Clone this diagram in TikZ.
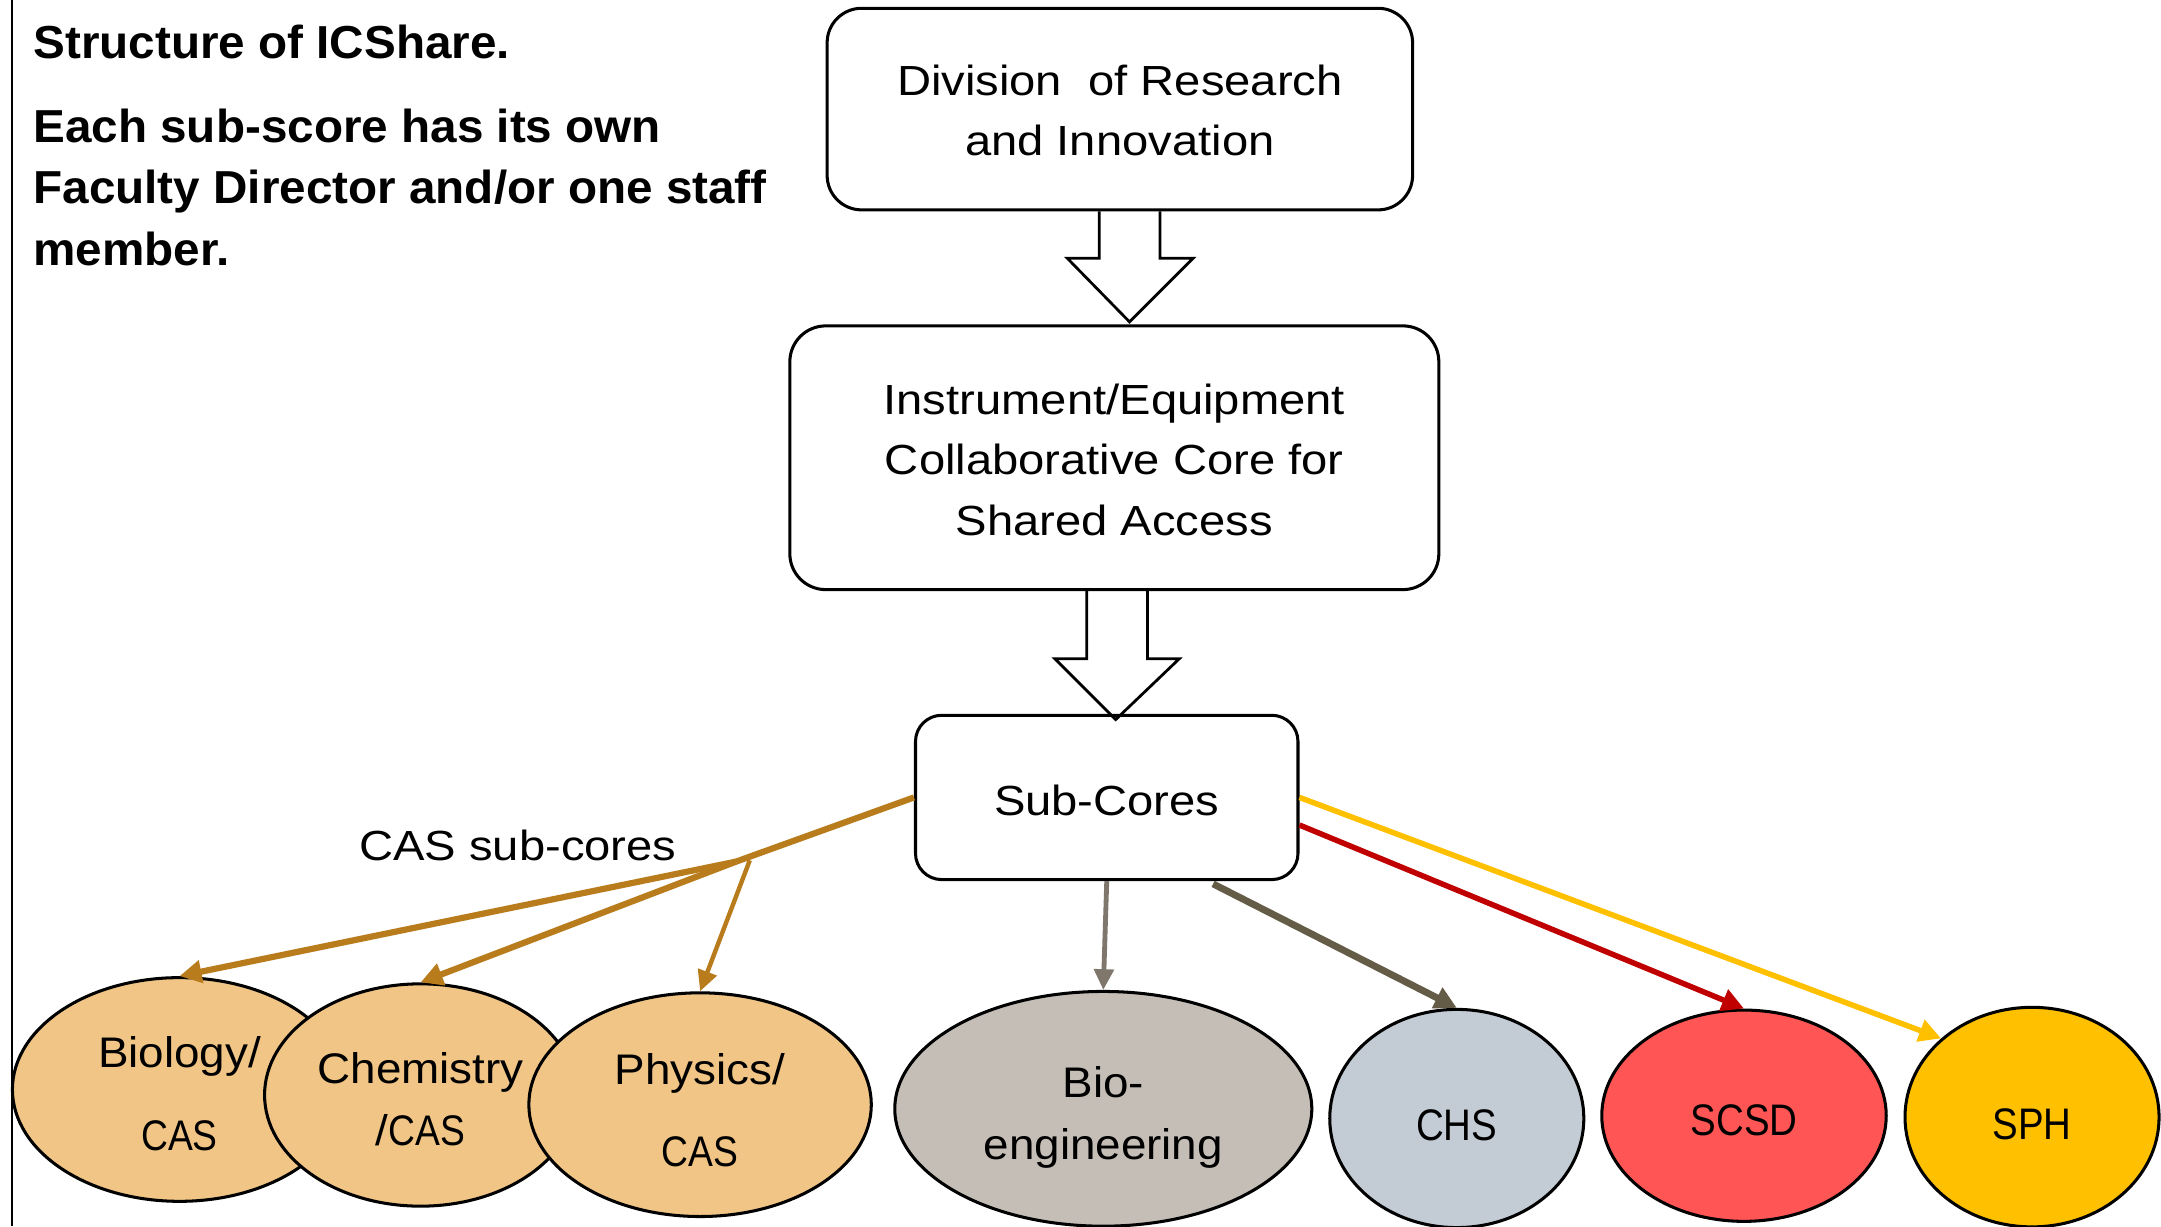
\documentclass[tikz,border=0pt]{standalone}
\usepackage{fontspec}
\setmainfont{Liberation Sans}
\newfontfamily\boxfont{Liberation Sans}[FakeStretch=1.12]
\newfontfamily\titlefont{Liberation Sans}[FakeStretch=1.03]
\newfontfamily\ellfont{Liberation Sans}[FakeStretch=1.07]
\newfontfamily\capsfont{Liberation Sans}[FakeStretch=0.87]
\usetikzlibrary{arrows.meta,calc,shapes.geometric}
\newcommand{\tallstrut}[1]{\rule{0pt}{#1}}
\definecolor{casfill}{HTML}{F0C585}
\definecolor{bioefill}{HTML}{C4BEB7}
\definecolor{chsfill}{HTML}{C3CBD5}
\definecolor{scsdfill}{HTML}{FF5555}
\definecolor{sphfill}{HTML}{FFC000}
\definecolor{casline}{HTML}{B87C1C}
\definecolor{bioeline}{HTML}{7F776C}
\definecolor{chsline}{HTML}{645C47}
\definecolor{scsdline}{HTML}{C00000}
\definecolor{sphline}{HTML}{FFC000}
\tikzset{
  boxnode/.style={draw, line width=2.2pt, rectangle, align=center, inner sep=0pt,
    font=\boxfont\fontsize{30.5}{44}\selectfont},
  ellnode/.style={draw, line width=2.2pt, ellipse, align=center, inner sep=0pt,
    font=\ellfont\fontsize{31}{44.5}\selectfont},
  capstext/.style={font=\capsfont\fontsize{32}{44.5}\selectfont},
  titletext/.style={anchor=base west, inner sep=0pt,
    font=\titlefont\bfseries\fontsize{33.5}{40}\selectfont},
  blockarr/.style={draw, line width=2pt, line join=miter},
  conn/.style={-{Triangle[length=16pt,width=16pt]}},
  thinconn/.style={-{Triangle[length=15pt,width=14pt]}}
}
\begin{document}
\begin{tikzpicture}[x=1pt,y=-1pt]
\useasboundingbox (0,0) rectangle (1565,888);
\fill[white] (0,0) rectangle (1565,888);
\draw[line width=1.5pt] (9,0) -- (9,888);

% title text
\node[titletext] (t1) at (24,42.5) {Structure of ICShare.};
\node[titletext] (t2) at (24,103) {Each sub-score has its own};
\node[titletext] (t3) at (24,147.5) {Faculty Director and/or one staff};
\node[titletext] (t4) at (24,192) {member.};

% boxes
\node[boxnode, rounded corners=25pt, minimum width=424pt, minimum height=146pt] (dri) at (811,79)
  {\tallstrut{24pt}Division\ \ of Research\\and Innovation};
\node[boxnode, rounded corners=26pt, minimum width=470pt, minimum height=191pt] (icc) at (807,331.5)
  {\tallstrut{25pt}Instrument/Equipment\\Collaborative Core for\\Shared Access};
\node[boxnode, rounded corners=19pt, minimum width=277pt, minimum height=119pt] (sub) at (801.5,577.5)
  {\tallstrut{26pt}Sub-Cores};

% block arrows
\draw[blockarr] ([xshift=-15pt]dri.south) -- ++(0,34) -- ++(-23,0) -- ++(45,46) -- ++(46,-46) -- ++(-24,0) -- ++(0,-34);
\draw[blockarr] ([xshift=-20pt]icc.south) -- ++(0,49) -- ++(-23,0) -- ++(44,44) -- ++(46,-44) -- ++(-23,0) -- ++(0,-49);

% ellipses
\node[ellnode, fill=casfill, minimum width=242pt, minimum height=162pt] (bio) at (130,789)
  {\tallstrut{28.6pt}Biology/\\[16pt]{\capsfont CAS}};
\node[ellnode, fill=casfill, minimum width=226pt, minimum height=161pt] (chem) at (304.6,793)
  {\tallstrut{28.6pt}Chemistry\\/{\capsfont CAS}};
\node[ellnode, fill=casfill, minimum width=248pt, minimum height=162pt] (phys) at (507,800)
  {\tallstrut{30.6pt}Physics/\\[15pt]{\capsfont CAS}};
\node[ellnode, fill=bioefill, minimum width=302pt, minimum height=170pt] (bioe) at (799,803)
  {\tallstrut{35pt}Bio-\\engineering};
\node[ellnode, capstext, fill=chsfill, minimum width=184pt, minimum height=158pt] (chs) at (1055,810)
  {\tallstrut{31.5pt}CHS};
\node[ellnode, capstext, fill=scsdfill, minimum width=206pt, minimum height=153pt] (scsd) at (1263,808)
  {\tallstrut{29.5pt}SCSD};
\node[ellnode, capstext, fill=sphfill, minimum width=184pt, minimum height=159pt] (sph) at (1471.6,809)
  {\tallstrut{33pt}SPH};

% label
\node[anchor=base, inner sep=0pt, font=\boxfont\fontsize{30.5}{36}\selectfont] (caslabel) at (375,623) {CAS sub-cores};

% connectors
\coordinate (cas) at (533,624);
\draw[casline, line width=4.5pt] (sub.west) -- (cas);
\draw[conn, casline, line width=4.5pt] (cas) -- (bio.north);
\draw[conn, casline, line width=4.5pt] (cas) -- (chem.north);
\draw[thinconn, casline, line width=3.2pt] ($(cas)+(10,-1)$) -- (phys.north);
\draw[thinconn, bioeline, line width=3.5pt] (sub.south) -- (bioe.north);
\draw[conn, chsline, line width=5pt] ($(sub.south)+(77,2)$) -- (chs.north);
\draw[conn, scsdline, line width=4pt] ($(sub.east)+(0,20)$) -- (scsd.north);
\draw[conn, sphline, line width=4pt] (sub.east) -- (sph.north west);
\end{tikzpicture}
\end{document}
